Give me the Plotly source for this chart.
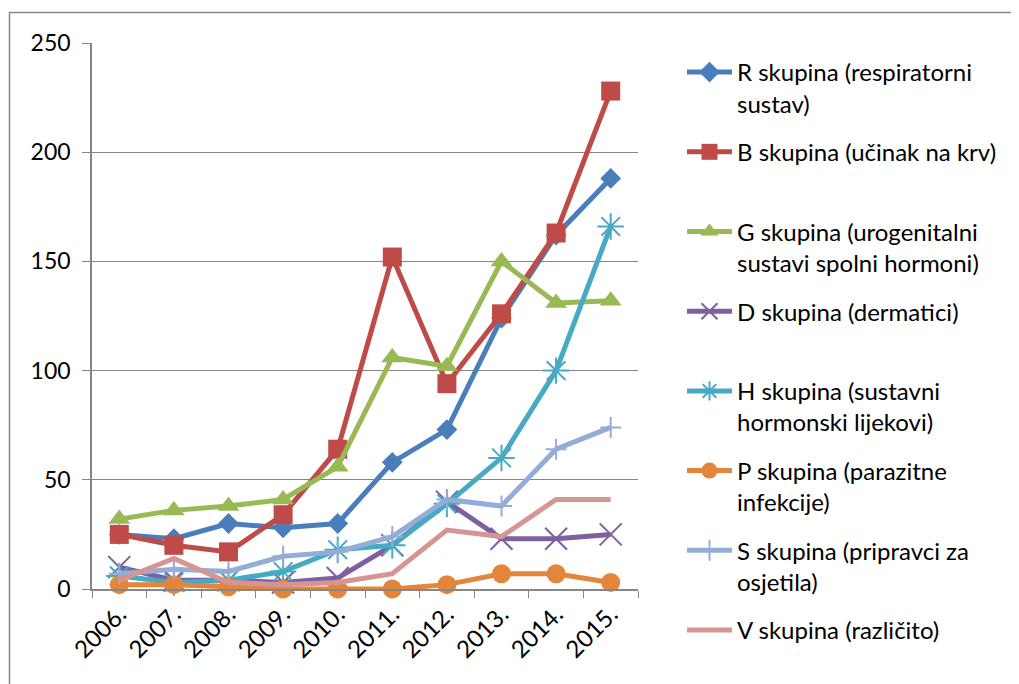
import plotly.graph_objects as go

years = ["2006.", "2007.", "2008.", "2009.", "2010.", "2011.", "2012.", "2013.", "2014.", "2015."]
R = [25, 23, 30, 28, 30, 58, 73, 124, 162, 188]
B = [25, 20, 17, 34, 64, 152, 94, 126, 163, 228]
G = [32, 36, 38, 41, 56, 106, 102, 150, 131, 132]
D = [10, 4, 4, 3, 5, 20, 40, 23, 23, 25]
H = [6, 3, 4, 8, 18, 20, 39, 60, 100, 166]
P = [2, 2, 1, 0, 0, 0, 2, 7, 7, 3]
S = [7, 9, 8, 15, 17, 24, 41, 38, 64, 74]
V = [4, 14, 3, 2, 3, 7, 27, 24, 41, 41]

names = [
    "R skupina (respiratorni<br>sustav)",
    "B skupina (učinak na krv)<br>&nbsp;",
    "G skupina (urogenitalni<br>sustavi spolni hormoni)",
    "D skupina (dermatici)<br>&nbsp;",
    "H skupina (sustavni<br>hormonski lijekovi)",
    "P skupina (parazitne<br>infekcije)",
    "S skupina (pripravci za<br>osjetila)",
    "V skupina (različito)",
]
series = [R, B, G, D, H, P, S, V]
colors = ["#4A7EBB", "#BE4B48", "#98B954", "#7D60A0", "#46AAC5", "#E3853A", "#93ADD8", "#D69593"]
symbols = ["diamond", "square", "triangle-up", "x-thin-open", "asterisk-open", "circle", "cross-thin-open", None]
sizes = [16, 19, 19, 22, 22, 19, 15, 0]

# page offset (body margin of the html page)
O = 8
W, Hh = 1019 - O, 684 - O
X0, X1, Y0, Y1 = 92, 638, 43, 589   # plot area in page pixels
L, Rr, T, Bm = X0 - O, W - (X1 - O), Y0 - O, Hh - (Y1 - O)
pw, ph = X1 - X0, Y1 - Y0


def px2x(px):
    return (px - X0) / pw


def py2y(py):
    return (Y1 - py) / ph


fig = go.Figure()
for i, (nm, ys, c, sym, sz) in enumerate(zip(names, series, colors, symbols, sizes)):
    if sym is None:
        mode = "lines"
        marker = None
    else:
        mode = "lines+markers"
        if sym.endswith("open"):
            marker = dict(symbol=sym, size=sz, color=c, line=dict(color=c, width=2))
        else:
            marker = dict(symbol=sym, size=sz, color=c, line=dict(width=0))
    fig.add_trace(go.Scatter(
        x=years, y=ys, name=nm, mode=mode, marker=marker,
        line=dict(color=c, width=5), cliponaxis=False, legendgroup=str(i),
    ))

fig.add_shape(type="rect", xref="paper", yref="paper",
              x0=px2x(9.5), x1=px2x(1040), y0=py2y(700), y1=py2y(12.5),
              line=dict(color="#868686", width=1.5), layer="below")

fig.update_layout(
    width=W, height=Hh,
    margin=dict(l=L, r=Rr, t=T, b=Bm),
    paper_bgcolor="white", plot_bgcolor="white",
    font=dict(family="Lato, Noto Sans, sans-serif", color="black"),
    showlegend=True,
    legend=dict(
        x=px2x(682), xanchor="left", y=py2y(50), yanchor="top",
        font=dict(size=24, family="Lato"), valign="top",
        tracegroupgap=14.3, itemwidth=45, bgcolor="rgba(0,0,0,0)",
        maxheight=660,
    ),
    xaxis=dict(
        type="category", tickson="boundaries", ticks="outside", ticklen=7,
        tickcolor="#868686", showline=True, linecolor="#868686", linewidth=1.5,
        showgrid=False, tickangle=-45, tickfont=dict(size=24, family="Lato"),
        range=[-0.5, 9.5], automargin=False,
    ),
    yaxis=dict(
        range=[0, 250], tickvals=[0, 50, 100, 150, 200, 250], ticks="outside",
        ticklen=8, tickcolor="#868686", showline=True, linecolor="#868686", linewidth=1.5,
        showgrid=True, gridcolor="#868686", gridwidth=1.2, zeroline=False,
        tickfont=dict(size=23, family="Lato"), ticklabelstandoff=7, automargin=False,
    ),
)

fig.write_html("out.html")
